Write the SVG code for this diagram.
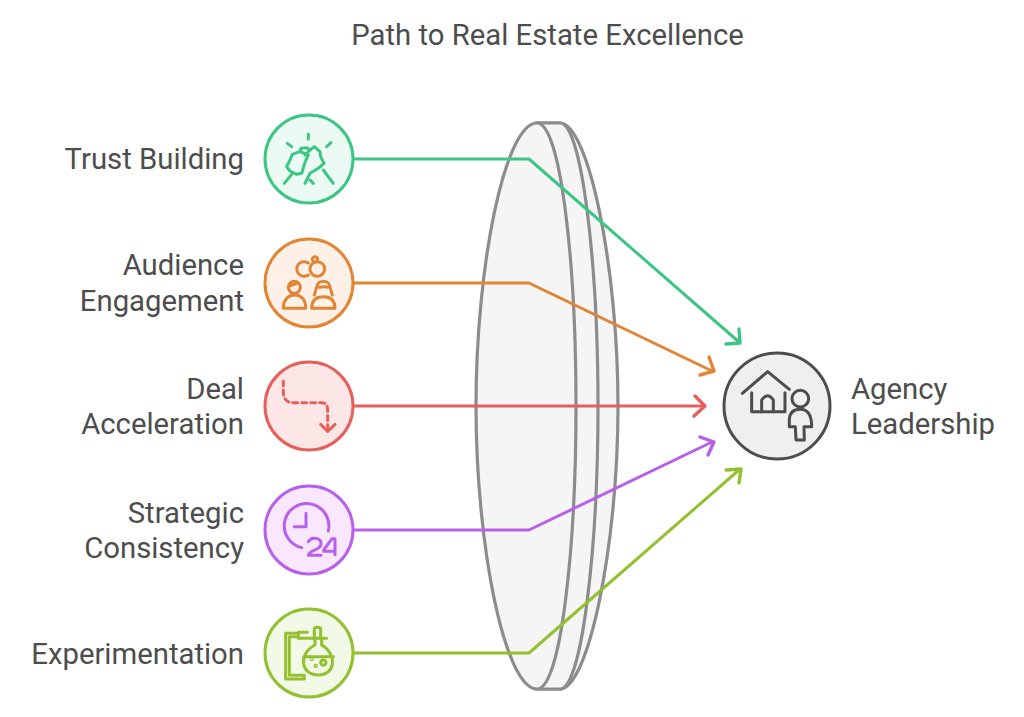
<svg xmlns="http://www.w3.org/2000/svg" width="1024" height="717" viewBox="0 0 1024 717">
<defs>
<style>
text{font-family:"Roboto","Liberation Sans",sans-serif;font-size:29.3px;fill:#4d4d4d}
.n{stroke-width:3}
.i{fill:none;stroke-width:9;stroke-linecap:round;stroke-linejoin:round}
.c{fill:none;stroke-width:3;stroke-linejoin:round}
.a{fill:none;stroke-width:3.4;stroke-linecap:round;stroke-linejoin:round}
.l{fill:#f5f5f5;stroke:#8c8c8c;stroke-width:3.2}
.g{stroke:#3cc583}.o{stroke:#e18434}.r{stroke:#e5605c}.p{stroke:#b760ea}.y{stroke:#92c02f}.k{stroke:#4d4d4d}
</style>
</defs>
<rect width="1024" height="717" fill="#fff"/>
<text x="547.5" y="45" text-anchor="middle" id="title">Path to Real Estate Excellence</text>
<g id="lens">
<path class="l" d="M537 123H560C588 123 618 265 618 406C618 547 588 689 560 689H537Z"/>
<path class="l" d="M537 123H560C582 123 598 265 598 406C598 547 582 689 560 689H537Z"/>
<path class="l" d="M537 123C505 123 476 265 476 406C476 547 505 689 537 689C561 689 576 547 576 406C576 265 561 123 537 123Z"/>
</g>
<g id="connectors">
<path class="c g" d="M354 159H529L739 342"/><path class="a g" d="M739 329L740 343L726 344"/>
<path class="c o" d="M354 283H529L712 371"/><path class="a o" d="M709 357L714 371L700 375"/>
<path class="c r" d="M354 406H704"/><path class="a r" d="M695 396L705 406L694 416"/>
<path class="c p" d="M354 530H529L712 442"/><path class="a p" d="M700 437L714 442L708 455"/>
<path class="c y" d="M354 653H529L739 470"/><path class="a y" d="M726 470L741 469L739 483"/>
</g>
<g id="trust-building">
<circle class="n g" cx="309" cy="159" r="44" fill="#ebfaf3"/>
<g class="i g" transform="translate(255 105) scale(.3333)"><path d="M160 88V102M97 115L110 125M228 113L215 125"/>
<path d="M112 148L135 140L160 150L150 172L140 205L125 208L105 198L95 185L105 165Z"/><path d="M135 140L138 130L155 128L165 135L178 125L195 140L197 155L207 175L190 190L165 205L150 235"/><path d="M150 150L165 135M88 235L110 208M235 235L205 195M165 225L175 235"/></g>
<text x="244" y="169" text-anchor="end">Trust Building</text></g>
<g id="audience-engagement">
<circle class="n o" cx="309" cy="283" r="44" fill="#fdf0e7"/>
<g class="i o" transform="translate(255 230) scale(.3333)"><path d="M160 99A22 22 0 1 0 160 135"/><circle cx="187" cy="117" r="22"/><circle cx="180" cy="88" r="8"/><circle cx="118" cy="172" r="18"/><path d="M100 170L125 160"/><path d="M85 235C85 205 105 195 118 195C135 195 152 205 152 235Z"/><path d="M178 195C185 175 185 150 205 155C225 150 225 175 232 195"/><path d="M190 172C200 172 212 168 218 172"/><path d="M170 235C170 210 185 200 205 200C225 200 240 210 240 235Z"/></g>
<text x="244" y="275" text-anchor="end">Audience</text><text x="244" y="311" text-anchor="end">Engagement</text></g>
<g id="deal-acceleration">
<circle class="n r" cx="309" cy="406" r="44" fill="#fde7e6"/>
<g class="i r" transform="translate(255 352) scale(.3333)"><path stroke-dasharray="15 12" d="M85 87V120Q85 152 115 152H200Q218 152 218 175V235"/><path d="M197 217L218 238L240 217"/></g>
<text x="244" y="399" text-anchor="end">Deal</text><text x="244" y="434" text-anchor="end">Acceleration</text></g>
<g id="strategic-consistency">
<circle class="n p" cx="309" cy="530" r="44" fill="#f8e7fd"/>
<g class="i p" transform="translate(255 476) scale(.3333)"><path d="M140 215A67 67 0 1 1 220 165"/><path d="M153 112V152H118"/><path d="M160 197C170 180 200 185 198 205C195 225 165 220 160 238H198"/><path d="M240 236V188H231L206 222V226H240"/></g>
<text x="244" y="523" text-anchor="end">Strategic</text><text x="244" y="558" text-anchor="end">Consistency</text></g>
<g id="experimentation">
<circle class="n y" cx="309" cy="653" r="44" fill="#f2f9e6"/>
<g class="i y" transform="translate(255 600) scale(.3333)"><path d="M130 100H92V237H148V226H103V110H130V97H157M130 115H215"/><path d="M178 115V88Q178 82 187 82Q197 82 197 88V115"/><path d="M180 115V135C130 160 135 225 190 225C245 225 245 160 200 135V115"/><path d="M147 170H235"/><circle cx="205" cy="188" r="8"/><circle cx="170" cy="178" r="1.5"/><circle cx="182" cy="198" r="2"/></g>
<text x="244" y="664" text-anchor="end">Experimentation</text></g>
<g id="agency-leadership">
<circle class="n k" cx="777" cy="406" r="53" fill="#efefef"/>
<g class="i k" transform="translate(690 320) scale(.3333)"><path d="M157 220L233 155L298 208"/><path d="M185 218V275H285V218"/><path d="M215 275V240Q232 215 250 240V275"/><circle cx="331" cy="236" r="25"/><path d="M298 320V298Q300 268 331 268Q365 268 365 320H342L343 360H318L316 320Z"/></g>
<text x="851" y="399">Agency</text><text x="851" y="434">Leadership</text></g>
</svg>
